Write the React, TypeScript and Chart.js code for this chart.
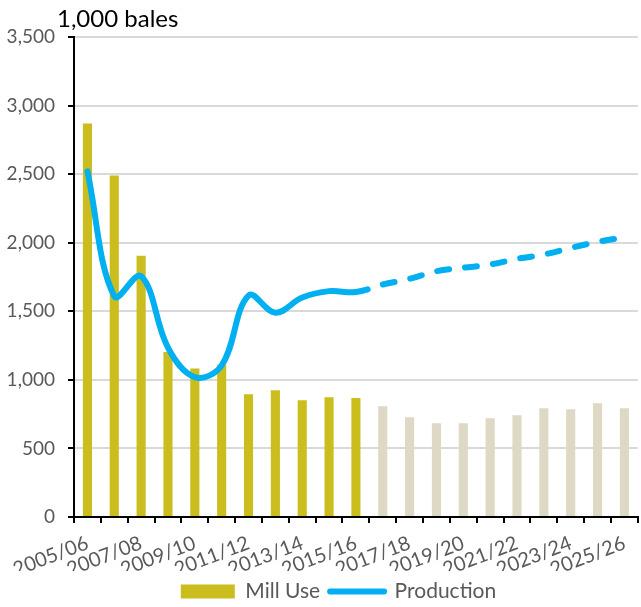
import { useEffect, useRef } from 'react';
import { Chart, registerables } from 'chart.js';

Chart.register(...registerables);

const categories = [
  '2005/06', '2006/07', '2007/08', '2008/09', '2009/10', '2010/11', '2011/12',
  '2012/13', '2013/14', '2014/15', '2015/16', '2016/17', '2017/18', '2018/19',
  '2019/20', '2020/21', '2021/22', '2022/23', '2023/24', '2024/25', '2025/26',
];
const millUse = [2870, 2490, 1905, 1203, 1082, 1110, 895, 924, 851, 873, 868, 808, 728, 684, 684, 720, 742, 793, 786, 830, 793];
const production = [2520, 1610, 1756, 1235, 1020, 1105, 1615, 1490, 1600, 1647, 1640, 1695, 1737, 1792, 1817, 1841, 1882, 1914, 1962, 2006, 2040];
const firstProjectionIndex = 11;
const yMin = 0;
const yMax = 3500;
const yStep = 500;
const seriesNames = ['Mill Use', 'Production'];
const axisTitle = '1,000 bales';

const GOLD = '#CBBD1E';
const BEIGE = '#DDD9C4';
const BLUE = '#00B0F0';
const TEXT = '#595959';
const FONT = 'Lato, "Open Sans", sans-serif';

const legendShift = {
  id: 'legendShift',
  afterLayout(chart: any) {
    if (chart.legend) {
      chart.legend.left += 36;
    }
  },
};

export default function App() {
  const ref = useRef<HTMLCanvasElement | null>(null);

  useEffect(() => {
    if (!ref.current) return;
    const chart = new Chart(ref.current, {
      type: 'bar',
      data: {
        labels: categories,
        datasets: [
          {
            type: 'bar',
            label: seriesNames[0],
            data: millUse,
            backgroundColor: millUse.map((_, i) => (i < firstProjectionIndex ? GOLD : BEIGE)),
            borderWidth: 0,
            barPercentage: 0.34,
            categoryPercentage: 1,
            order: 2,
          },
          {
            type: 'line',
            label: seriesNames[1],
            data: production,
            borderColor: BLUE,
            backgroundColor: BLUE,
            borderWidth: 6,
            borderCapStyle: 'round',
            borderJoinStyle: 'round',
            tension: 0.38,
            pointRadius: 0,
            pointHoverRadius: 0,
            fill: false,
            order: 1,
            segment: {
              borderDash: (ctx: any) => (ctx.p0DataIndex >= firstProjectionIndex - 1 ? [12, 16] : undefined),
            },
          } as any,
        ],
      },
      plugins: [legendShift],
      options: {
        responsive: false,
        animation: false,
        layout: { padding: { top: 37, left: 0, right: 0, bottom: -5 } },
        plugins: {
          title: { display: false },
          tooltip: { enabled: false },
          legend: {
            position: 'bottom',
            labels: {
              color: TEXT,
              font: { family: FONT, size: 21 },
              usePointStyle: true,
              pointStyleWidth: 54,
              boxHeight: 14,
              padding: 10,
              generateLabels: () => [
                {
                  text: seriesNames[0], fillStyle: GOLD, strokeStyle: GOLD, lineWidth: 0,
                  pointStyle: 'rect', datasetIndex: 0, hidden: false, fontColor: TEXT,
                } as any,
                {
                  text: seriesNames[1], fillStyle: BLUE, strokeStyle: BLUE, lineWidth: 6,
                  lineCap: 'round', pointStyle: 'line', datasetIndex: 1, hidden: false, fontColor: TEXT,
                } as any,
              ],
            },
          },
        },
        scales: {
          x: {
            offset: true,
            grid: {
              display: true,
              offset: true,
              drawOnChartArea: false,
              drawTicks: true,
              tickLength: 6,
              tickColor: '#000',
              tickWidth: 2,
              lineWidth: 2,
            },
            border: { display: true, color: '#000', width: 2 },
            ticks: {
              autoSkip: false,
              minRotation: 21,
              maxRotation: 21,
              padding: 8,
              color: TEXT,
              font: { family: FONT, size: 20 },
              callback: (_v: any, i: number) => (i % 2 === 0 ? categories[i] : ''),
            },
            afterFit: (s: any) => { s.height = 54; },
          },
          y: {
            min: yMin,
            max: yMax,
            grid: {
              color: '#D9D9D9',
              lineWidth: 2,
              drawTicks: true,
              tickLength: 6,
              tickColor: '#000',
              tickWidth: 2,
            },
            border: { display: true, color: '#000', width: 2 },
            ticks: {
              stepSize: yStep,
              padding: 13,
              color: TEXT,
              font: { family: FONT, size: 19 },
              callback: (v: any) => Number(v).toLocaleString('en-US'),
            },
            afterFit: (s: any) => { s.width = 74; },
          },
        },
      },
    });
    return () => chart.destroy();
  }, []);

  return (
    <div style={{ position: 'absolute', left: 0, top: 0, width: 641, height: 607 }}>
      <canvas ref={ref} width={641} height={607} style={{ display: 'block' }} />
      <div
        style={{
          position: 'absolute', left: 57, top: 6, fontFamily: FONT, fontSize: 24,
          lineHeight: '24px', color: '#000', whiteSpace: 'nowrap',
        }}
      >
        {axisTitle}
      </div>
    </div>
  );
}
